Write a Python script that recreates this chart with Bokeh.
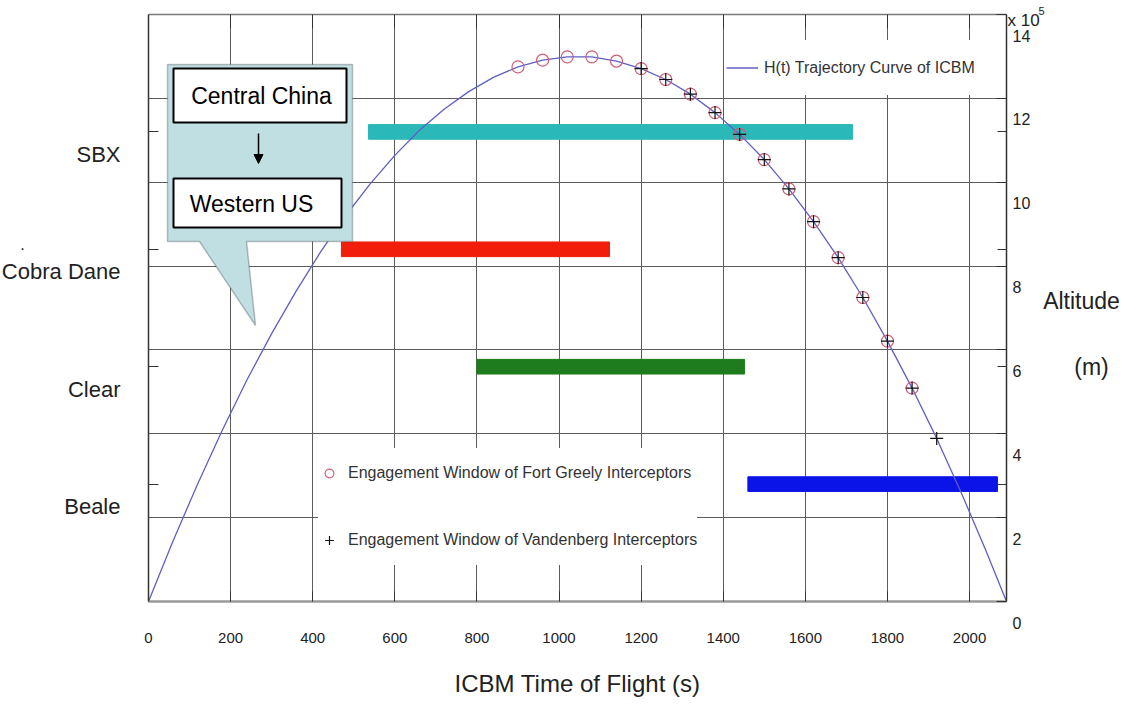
from bokeh.plotting import figure
from bokeh.models import (Range1d, LinearAxis, FixedTicker, Grid, Label, Legend, LegendItem,
                          PolyAnnotation, BoxAnnotation, Arrow, NormalHead)
from bokeh.embed import file_html
from bokeh.resources import INLINE

# ---------------- data ----------------
time_s = [0, 60, 120, 180, 240, 300, 360, 420, 480, 540, 600, 660, 720, 780, 840, 900,
          960, 1020, 1080, 1140, 1200, 1260, 1320, 1380, 1440, 1500, 1560, 1620, 1680,
          1740, 1800, 1860, 1920, 1980, 2040, 2090]
altitude_1e5m = [0, 1.45, 2.81, 4.09, 5.29, 6.39, 7.41, 8.35, 9.20, 9.96, 10.64, 11.24,
                 11.74, 12.16, 12.50, 12.75, 12.91, 12.99, 12.99, 12.89, 12.71, 12.45,
                 12.10, 11.66, 11.14, 10.54, 9.84, 9.06, 8.20, 7.25, 6.21, 5.09, 3.89,
                 2.59, 1.21, 0]
fort_greely_times = [900, 960, 1020, 1080, 1140, 1200, 1260, 1320, 1380, 1440, 1500,
                     1560, 1620, 1680, 1740, 1800, 1860]
vandenberg_times = [1200, 1260, 1320, 1380, 1440, 1500, 1560, 1620, 1680, 1740, 1800,
                    1860, 1920]
sensors = ["Beale", "Clear", "Cobra Dane", "SBX"]
sensor_pos = [1, 2, 3, 4]
sensor_start = [1460, 800, 470, 536]
sensor_end = [2068, 1452, 1123, 1715]
x_ticks = [0, 200, 400, 600, 800, 1000, 1200, 1400, 1600, 1800, 2000]
alt_ticks = [0, 2, 4, 6, 8, 10, 12, 14]
alt_tick_labels = ["0", "2", "4", "6", "8", "10", "12", "14"]

# ---------------- styles / layout ----------------
FONT = "Liberation Sans"
TXT = "#222222"
bar_colors = ["#0a14e8", "#1e7c1e", "#f01e0a", "#2bb8b8"]
X_MAX = 2090
Y_MAX = 14
SENSOR_MAX = 5
SENSOR_SCALE = Y_MAX / SENSOR_MAX
FR_L, FR_R, FR_T, FR_B = 148, 1006, 14, 601   # plot box edges in picture pixels
TOTAL_W, TOTAL_H = 1120, 699

def X(px):
    return (px - FR_L) * X_MAX / float(FR_R - FR_L)

def Y(py):
    return (FR_B - py) * Y_MAX / float(FR_B - FR_T)

# the frame spans the whole canvas so that the outside texts are not clipped;
# the plot box (0..2090 s, 0..14 x1e5 m) is drawn by axes fixed at its edges
p = figure(width=TOTAL_W, height=TOTAL_H, output_backend="svg", toolbar_location=None,
           x_range=Range1d(X(0), X(TOTAL_W)), y_range=Range1d(Y(TOTAL_H), Y(0)),
           x_axis_location=None, y_axis_location=None,
           min_border_left=0, min_border_right=0, min_border_top=0, min_border_bottom=0)
p.extra_y_ranges = {"sensor": Range1d(Y(TOTAL_H) / SENSOR_SCALE, Y(0) / SENSOR_SCALE)}
p.grid.visible = False
p.outline_line_color = None
p.background_fill_color = "white"
p.border_fill_color = "white"

# grids
p.add_layout(Grid(dimension=0, ticker=FixedTicker(ticks=x_ticks[1:]), cross_bounds=(0, Y_MAX),
                  grid_line_color="#5c5c5c", grid_line_width=1))
p.add_layout(Grid(dimension=1, ticker=FixedTicker(ticks=alt_ticks[1:-1]), cross_bounds=(0, X_MAX),
                  grid_line_color="#5c5c5c", grid_line_width=1))

# bottom axis
xaxis = LinearAxis(ticker=FixedTicker(ticks=x_ticks), axis_label="ICBM Time of Flight (s)",
                   fixed_location=0, bounds=(0, X_MAX))
xaxis.major_tick_in = 10
xaxis.major_tick_out = 0
xaxis.minor_tick_line_color = None
xaxis.axis_line_color = "#9a9a9a"
xaxis.axis_line_width = 2.5
xaxis.major_tick_line_color = "#333333"
xaxis.major_label_standoff = 31
xaxis.major_label_text_font = FONT
xaxis.major_label_text_font_size = "15px"
xaxis.major_label_text_color = TXT
xaxis.axis_label_standoff = 24
xaxis.axis_label_text_font = FONT
xaxis.axis_label_text_font_size = "24px"
xaxis.axis_label_text_font_style = "normal"
xaxis.axis_label_text_color = TXT
p.add_layout(xaxis, "below")

# top edge with inward ticks
top_axis = LinearAxis(ticker=FixedTicker(ticks=x_ticks[1:]), fixed_location=Y_MAX,
                      bounds=(0, X_MAX))
top_axis.major_label_overrides = {t: "" for t in x_ticks[1:]}
top_axis.major_tick_in = 14
top_axis.major_tick_out = 0
top_axis.minor_tick_line_color = None
top_axis.axis_line_color = "#7a7a7a"
top_axis.axis_line_width = 1.5
top_axis.major_tick_line_color = "#333333"
p.add_layout(top_axis, "above")

# left axis: sensor names (labels sit just below each sensor's tick)
shift = 0.19
lbl_ticks = [round(k - shift, 2) for k in sensor_pos]
yaxis_l = LinearAxis(y_range_name="sensor", fixed_location=0, bounds=(0, SENSOR_MAX),
                     ticker=FixedTicker(ticks=lbl_ticks, minor_ticks=sensor_pos))
yaxis_l.major_label_overrides = {t: s for t, s in zip(lbl_ticks, sensors)}
yaxis_l.major_tick_in = 0
yaxis_l.major_tick_out = 0
yaxis_l.minor_tick_in = 10
yaxis_l.minor_tick_out = 0
yaxis_l.minor_tick_line_color = "#333333"
yaxis_l.axis_line_color = "#333333"
yaxis_l.axis_line_width = 1.5
yaxis_l.major_label_standoff = 28
yaxis_l.major_label_text_font = FONT
yaxis_l.major_label_text_font_size = "22px"
yaxis_l.major_label_text_color = TXT
p.add_layout(yaxis_l, "left")

# right axis: altitude ticks (numbers as labels just below each tick)
yaxis_r = LinearAxis(fixed_location=X_MAX, bounds=(0, Y_MAX),
                     ticker=FixedTicker(ticks=alt_ticks,
                                        minor_ticks=[k * SENSOR_SCALE for k in sensor_pos]))
yaxis_r.major_label_overrides = {t: "" for t in alt_ticks}
yaxis_r.major_label_standoff = 0
yaxis_r.major_tick_in = 10
yaxis_r.major_tick_out = 0
yaxis_r.minor_tick_in = 9
yaxis_r.minor_tick_out = 0
yaxis_r.major_tick_line_color = "#333333"
yaxis_r.minor_tick_line_color = "#333333"
yaxis_r.axis_line_color = "#333333"
yaxis_r.axis_line_width = 1.5
p.add_layout(yaxis_r, "right")

for v, lab in zip(alt_ticks, alt_tick_labels):
    p.add_layout(Label(x=X_MAX, y=v, x_offset=6, y_offset=-21, text=lab,
                       text_align="left", text_baseline="middle",
                       text_font=FONT, text_font_size="16px", text_color=TXT))
p.add_layout(Label(x=X(1007), y=Y(20), text="x 10", text_align="left",
                   text_baseline="middle", text_font=FONT, text_font_size="17px",
                   text_color=TXT))
p.add_layout(Label(x=X(1038), y=Y(10), text="5", text_align="left",
                   text_baseline="middle", text_font=FONT, text_font_size="11px",
                   text_color=TXT))
p.add_layout(Label(x=X(1081), y=Y(300), text="Altitude", text_align="center",
                   text_baseline="middle", text_font=FONT, text_font_size="23px",
                   text_color=TXT))
p.add_layout(Label(x=X(1091), y=Y(366), text="(m)", text_align="center",
                   text_baseline="middle", text_font=FONT, text_font_size="23px",
                   text_color=TXT))
p.add_layout(Label(x=X(22), y=Y(243), text=".", text_align="center",
                   text_baseline="middle", text_font=FONT, text_font_size="16px",
                   text_color=TXT))

# sensor windows
p.hbar(y=sensor_pos, left=sensor_start, right=sensor_end, height=0.125,
       color=bar_colors, y_range_name="sensor")

# trajectory and engagement windows
alt_at = dict(zip(time_s, altitude_1e5m))
traj = p.line(time_s, altitude_1e5m, line_color="#5f5fc4", line_width=1.3)
fg = p.scatter(fort_greely_times, [alt_at[t] for t in fort_greely_times], marker="circle",
               size=12, fill_color=None, line_color="#cf5f76", line_width=1.2)
vb = p.scatter(vandenberg_times, [alt_at[t] for t in vandenberg_times], marker="cross",
               size=13, line_color="#111111", line_width=1.2)

# callout
cx = [167, 352, 352, 246, 255, 199, 167]
cy = [64, 64, 241, 241, 325, 241, 241]
p.add_layout(PolyAnnotation(xs=[X(v) for v in cx], ys=[Y(v) for v in cy],
                            fill_color="#bfdfe3", fill_alpha=1,
                            line_color="#2a2a2a", line_width=1.5))
p.add_layout(BoxAnnotation(left=X(173), right=X(346), top=Y(68), bottom=Y(122),
                           fill_color="white", fill_alpha=1, line_color="black",
                           line_width=2, line_alpha=1))
p.add_layout(BoxAnnotation(left=X(173), right=X(341), top=Y(178), bottom=Y(227),
                           fill_color="white", fill_alpha=1, line_color="black",
                           line_width=2, line_alpha=1))
p.add_layout(Arrow(end=NormalHead(size=9, fill_color="black", line_color="black"),
                   x_start=X(258), y_start=Y(133), x_end=X(258), y_end=Y(163),
                   line_width=1.5, line_color="black"))
p.add_layout(Label(x=X(261), y=Y(95), text="Central China", text_align="center",
                   text_baseline="middle", text_font=FONT, text_font_size="23px",
                   text_color="black"))
p.add_layout(Label(x=X(251), y=Y(203), text="Western US", text_align="center",
                   text_baseline="middle", text_font=FONT, text_font_size="23px",
                   text_color="black"))

# legends (location in pixels from the canvas bottom-left)
leg_top = Legend(items=[LegendItem(label="H(t) Trajectory Curve of ICBM", renderers=[traj])],
                 location=(726, 604), glyph_width=32, glyph_height=55, label_height=55,
                 padding=8, spacing=0, label_standoff=6,
                 label_text_font=FONT, label_text_font_size="16px",
                 label_text_color="#333333", border_line_color=None,
                 background_fill_color="white", background_fill_alpha=1)
p.add_layout(leg_top)
leg_bot = Legend(items=[LegendItem(label="Engagement Window of Fort Greely Interceptors",
                                   renderers=[fg]),
                        LegendItem(label="Engagement Window of Vandenberg Interceptors",
                                   renderers=[vb])],
                 location=(318, 134), glyph_width=22, glyph_height=50, label_height=50,
                 padding=8, spacing=17, label_standoff=8,
                 label_text_font=FONT, label_text_font_size="16px",
                 label_text_color="#333333", border_line_color=None,
                 background_fill_color="white", background_fill_alpha=1)
p.add_layout(leg_bot)

open("out.html", "w").write(file_html(p, INLINE))
